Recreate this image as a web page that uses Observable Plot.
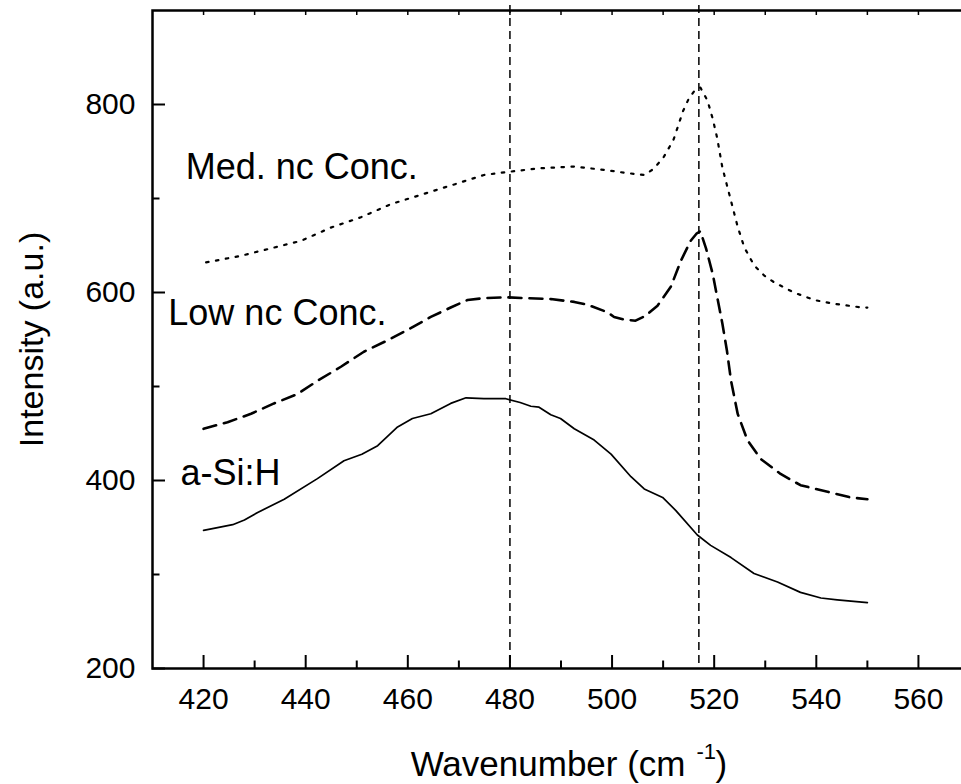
<!DOCTYPE html>
<html>
<head>
<meta charset="utf-8">
<script src="https://cdn.jsdelivr.net/npm/d3@7"></script>
<script src="https://cdn.jsdelivr.net/npm/@observablehq/plot@0.6"></script>
<style>
  html, body { margin: 0; padding: 0; background: #fff; overflow: hidden; }
  #chart { width: 961px; height: 784px; overflow: hidden; }
  #chart svg { max-width: none !important; width: 975px !important; height: 784px !important; }
</style>
</head>
<body>
<div id="chart"></div>
<script>
// ---- data ----
const aSiH = [
  [420,347],[422,349],[425.7,353],[428,358],[430.6,366],[435.8,380],[442.3,402],[447.5,421],
  [451,428],[454.1,437],[458,457],[460.9,466],[464.5,471],[468.4,482],[471.4,488],[474.9,487],
  [479.2,487],[482,483],[484.1,479],[485.7,478],[488,470],[489.9,466],[492.6,455],[496.5,443],
  [499.8,428],[503.7,404],[506.3,391],[509.9,382],[512.5,368],[516.7,342],[519.3,331],[523.3,318],
  [527.8,301],[532.4,292],[536.9,281],[540.9,275],[544.1,273],[550,270]
];
const lowNc = [
  [420,455],[424.7,462],[429.3,471],[433.8,482],[438.4,492],[442.3,506],[446.9,521],[451.4,537],
  [456,549],[459.9,560],[464.5,574],[468.4,584],[471.7,592],[474.9,594],[479.2,595],[482.8,594],
  [488,593],[492.6,590],[495.2,587],[499.1,579],[500.4,574],[502.5,571],[504.6,570],[506.5,575],
  [508.9,586],[511.5,606],[513.5,634],[515.4,655],[516.6,663],[517.3,665],[518.4,647],[519.7,620],
  [520.6,595],[521.6,567],[522.5,538],[523.3,506],[524.6,471],[526.5,443],[529.1,423],[533,407],
  [536.9,395],[542.2,388],[546.7,382],[550,380]
];
const medNc = [
  [420.5,632],[427.3,639],[433.2,647],[439.1,655],[444.9,669],[450.8,680],[456.7,694],[463.2,705],
  [469.7,716],[474.9,725],[479.2,728],[485.4,732],[492.6,734],[499.1,730],[503,727],[506.3,725],
  [508,731],[510,743],[512,762],[513.9,793],[515,806],[516.2,815],[517.3,818],[518.7,804],
  [519.7,785],[520.6,764],[521.6,733],[522.6,712],[523.6,691],[524.6,670],[525.9,648],[527.8,629],
  [529.8,618],[531.7,611],[535.6,600],[539.6,592],[543.5,588],[549,584],[550,584]
];
const refLines = [480, 517];
const labelNames = ["Med. nc Conc.", "Low nc Conc.", "a-Si:H"];
const labelX = [416.5, 413.1, 415.5];
const labelY = [721, 565, 395];
const xMajor = [420, 440, 460, 480, 500, 520, 540, 560];
const xMinor = [430, 450, 470, 490, 510, 530, 550];
const xTop = [420, 430, 440, 450, 460, 470, 480, 490, 500, 510, 520, 530, 540, 550, 560];
const yMajor = [200, 400, 600, 800];
const yMinor = [300, 500, 700];
const xTitle = "Wavenumber (cm";
const xTitleSup = "-1";
const xTitleEnd = ")";
const yTitle = "Intensity (a.u.)";

const toObj = arr => arr.map(([x, y]) => ({x, y}));
const labels = labelNames.map((name, i) => ({name, x: labelX[i], y: labelY[i]}));

const font = "'Liberation Sans', Arial, Helvetica, sans-serif";

const chart = Plot.plot({
  width: 975,
  height: 784,
  marginTop: 10,
  marginBottom: 116,
  marginLeft: 152,
  marginRight: 6,
  x: {domain: [410, 570]},
  y: {domain: [200, 900]},
  style: {fontFamily: font, color: "black", background: "white", maxWidth: "none"},
  marks: [
    Plot.ruleX(refLines, {stroke: "black", strokeWidth: 1.5, strokeDasharray: "8,5", insetTop: -5}),
    Plot.line(toObj(aSiH), {x: "x", y: "y", stroke: "black", strokeWidth: 1.7}),
    Plot.line(toObj(lowNc), {x: "x", y: "y", stroke: "black", strokeWidth: 2.6, strokeDasharray: "13,8"}),
    Plot.line(toObj(medNc), {x: "x", y: "y", stroke: "black", strokeWidth: 2.2, strokeDasharray: "2.5,7.5"}),
    Plot.text(labels, {x: "x", y: "y", text: "name", textAnchor: "start", lineAnchor: "bottom", fontSize: 36, fill: "black"}),
    // axes
    Plot.axisX(xMajor, {anchor: "bottom", tickSize: -13, tickPadding: 32, fontSize: 30, strokeWidth: 2, tickFormat: d => String(d), label: null}),
    Plot.axisX(xMinor, {anchor: "bottom", tickSize: -7.5, tickFormat: () => "", strokeWidth: 2, label: null}),
    Plot.axisX(xTop, {anchor: "top", tickSize: -4, tickFormat: () => "", strokeWidth: 1.5, label: null}),
    Plot.axisY(yMajor, {anchor: "left", tickSize: -13, tickPadding: 30, fontSize: 30, strokeWidth: 2, tickFormat: d => String(d), label: null}),
    Plot.axisY(yMinor, {anchor: "left", tickSize: -7.5, tickFormat: () => "", strokeWidth: 2, label: null}),
    Plot.frame({stroke: "black", strokeWidth: 2.5}),
    // axis titles
    Plot.text([xTitle], {frameAnchor: "bottom", textAnchor: "end", lineAnchor: "bottom", dx: 124.5, dy: 107, fontSize: 35, fill: "black"}),
    Plot.text([xTitleSup], {frameAnchor: "bottom", textAnchor: "start", lineAnchor: "bottom", dx: 135.5, dy: 90, fontSize: 22, fill: "black"}),
    Plot.text([xTitleEnd], {frameAnchor: "bottom", textAnchor: "start", lineAnchor: "bottom", dx: 154.5, dy: 107, fontSize: 35, fill: "black"}),
    Plot.text([yTitle], {frameAnchor: "left", textAnchor: "middle", lineAnchor: "middle", rotate: -90, dx: -120, fontSize: 34, fill: "black"})
  ]
});
document.getElementById("chart").appendChild(chart);
</script>
</body>
</html>
